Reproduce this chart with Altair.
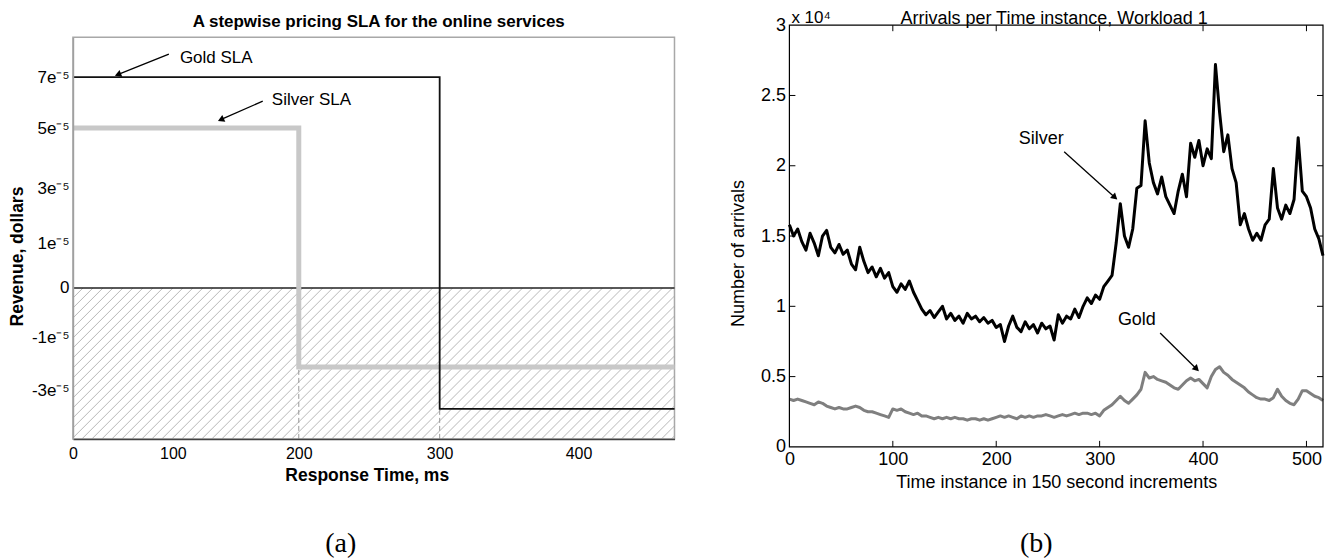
import math
import numpy as np
import pandas as pd
import altair as alt

# ---------------- Panel (a): stepwise pricing SLA ----------------
sla_x_ticks = [0, 100, 200, 300, 400]
sla_y_ticks = [7e-5, 5e-5, 3e-5, 1e-5, 0.0, -1e-5, -3e-5]
sla_y_tick_text = ["7e\u207b\u2075", "5e\u207b\u2075", "3e\u207b\u2075", "1e\u207b\u2075", "0",
                   "-1e\u207b\u2075", "-3e\u207b\u2075"]
gold_sla_ms = [0, 300, 470]
gold_sla_rev = [7e-5, -3.75e-5, -3.75e-5]
silver_sla_ms = [0, 200, 470]
silver_sla_rev = [5e-5, -2.1e-5, -2.1e-5]
threshold_ms = [200, 300]
threshold_low = [-2.1e-5, -3.75e-5]

# ---------------- Panel (b): arrivals per time instance (x 10^4) ----------------
arr_ticks_x = [0, 100, 200, 300, 400, 500]
arr_ticks_y = [0, 0.5, 1, 1.5, 2, 2.5, 3]
time_step = list(range(0, 517, 4))
silver_arrivals = [
    1.58, 1.50, 1.55, 1.46, 1.40, 1.52, 1.45, 1.36, 1.50, 1.54, 1.42, 1.38, 1.44, 1.37, 1.40, 1.30,
    1.26, 1.42, 1.32, 1.24, 1.28, 1.21, 1.27, 1.20, 1.24, 1.14, 1.10, 1.16, 1.12, 1.18, 1.10, 1.04,
    0.98, 0.94, 0.97, 0.92, 0.96, 1.00, 0.91, 0.95, 0.90, 0.93, 0.88, 0.95, 0.91, 0.93, 0.89, 0.92,
    0.88, 0.90, 0.85, 0.87, 0.75, 0.86, 0.93, 0.85, 0.82, 0.89, 0.84, 0.87, 0.81, 0.88, 0.84, 0.86,
    0.76, 0.94, 0.88, 0.93, 0.91, 0.98, 0.92, 1.00, 1.06, 1.02, 1.08, 1.05, 1.14, 1.18, 1.22, 1.45,
    1.73, 1.50, 1.42, 1.55, 1.84, 1.86, 2.32, 2.02, 1.88, 1.80, 1.92, 1.78, 1.72, 1.66, 1.82, 1.94,
    1.78, 2.16, 2.06, 2.18, 2.00, 2.12, 2.05, 2.72, 2.38, 2.10, 2.22, 1.98, 1.88, 1.58, 1.66, 1.55,
    1.47, 1.52, 1.47, 1.58, 1.62, 1.98, 1.70, 1.62, 1.72, 1.66, 1.76, 2.20, 1.82, 1.78, 1.70, 1.55,
    1.48, 1.36]
gold_arrivals = [
    0.34, 0.33, 0.34, 0.33, 0.32, 0.31, 0.30, 0.32, 0.31, 0.29, 0.28, 0.27, 0.28, 0.27, 0.27, 0.28,
    0.29, 0.28, 0.26, 0.25, 0.25, 0.24, 0.23, 0.22, 0.21, 0.27, 0.26, 0.27, 0.25, 0.24, 0.23, 0.24,
    0.22, 0.22, 0.21, 0.20, 0.21, 0.20, 0.21, 0.20, 0.21, 0.20, 0.20, 0.19, 0.20, 0.20, 0.19, 0.20,
    0.19, 0.20, 0.21, 0.22, 0.21, 0.22, 0.21, 0.20, 0.22, 0.21, 0.22, 0.21, 0.22, 0.22, 0.23, 0.22,
    0.21, 0.22, 0.23, 0.22, 0.23, 0.24, 0.23, 0.24, 0.24, 0.23, 0.24, 0.22, 0.26, 0.28, 0.30, 0.33,
    0.36, 0.33, 0.31, 0.34, 0.37, 0.41, 0.53, 0.49, 0.50, 0.48, 0.47, 0.46, 0.44, 0.42, 0.41, 0.44,
    0.47, 0.49, 0.47, 0.48, 0.45, 0.42, 0.50, 0.55, 0.57, 0.53, 0.51, 0.48, 0.46, 0.44, 0.42, 0.39,
    0.37, 0.35, 0.34, 0.34, 0.33, 0.35, 0.41, 0.36, 0.33, 0.31, 0.30, 0.34, 0.40, 0.40, 0.38, 0.36,
    0.35, 0.33]

# ---------------- layout (pixels inside each panel's group) ----------------
A_W, A_H = 602, 414          # panel (a) view; its frame starts 12 px below the view top
B_W, B_H = 534, 422
SLA_X_BREAKS = [0, 100, 200, 300, 400, 470]
SLA_X_PIX = [0, 100, 226, 367, 506, 602]
SLA_Y_BREAKS = [-5e-5, -3e-5, -1e-5, 0.0, 1e-5, 3e-5, 5e-5, 7e-5, 9e-5]
SLA_Y_PIX = [414, 366, 313, 263, 218, 163, 103, 52, 12]
ARR_X_DOM, ARR_X_PIX = [0, 516], [0, B_W]
ARR_Y_DOM, ARR_Y_PIX = [0, 3], [B_H, 0]

SANS = "Liberation Sans, Arial, Helvetica, sans-serif"
SERIF = "Liberation Serif, Times New Roman, serif"

sx = alt.Scale(domain=SLA_X_BREAKS, range=SLA_X_PIX, zero=False, nice=False)
sy = alt.Scale(domain=SLA_Y_BREAKS, range=SLA_Y_PIX, zero=False, nice=False)
ax = alt.Scale(domain=ARR_X_DOM, zero=False, nice=False)
ay = alt.Scale(domain=ARR_Y_DOM, zero=False, nice=False)


def sla_px(x, y):
    return float(np.interp(x, SLA_X_BREAKS, SLA_X_PIX)), float(np.interp(y, SLA_Y_BREAKS, SLA_Y_PIX))


def sla_inv(px, py):
    return (float(np.interp(px, SLA_X_PIX, SLA_X_BREAKS)),
            float(np.interp(py, SLA_Y_PIX[::-1], SLA_Y_BREAKS[::-1])))


def arr_px(x, y):
    return float(np.interp(x, ARR_X_DOM, ARR_X_PIX)), float(np.interp(y, ARR_Y_DOM, ARR_Y_PIX))


def head_angle(p0, p1):
    dx, dy = p1[0] - p0[0], p1[1] - p0[1]
    return (math.degrees(math.atan2(dx, -dy)) + 360) % 360


# ---------------- axes (same object on every layer so they merge) ----------------
label_expr = " : ".join(
    f"abs(datum.value - ({v})) < 1e-9 ? '{t}'" for v, t in zip(sla_y_ticks, sla_y_tick_text)
) + " : ''"

axis_a_x = alt.Axis(
    values=sla_x_ticks, format="d", grid=False, ticks=False, tickSize=0,
    labelFlush=False, labelPadding=7, labelFontSize=16, labelFont=SANS, labelColor="black",
    domainColor="#444", domainWidth=1.5, zindex=1,
    title="Response Time, ms", titleFont=SANS, titleFontSize=17.5, titleFontWeight="bold",
    titleColor="black", titleX=294, titleY=37, titleBaseline="middle", titleAlign="center")
axis_a_y = alt.Axis(
    values=sla_y_ticks, labelExpr=label_expr, grid=False, ticks=False, tickSize=0,
    labelPadding=4, labelFontSize=17, labelFont=SANS, labelColor="black",
    domainColor="#a0a0a0", domainWidth=1.5, zindex=1,
    title="Revenue, dollars", titleFont=SANS, titleFontSize=17.5, titleFontWeight="bold",
    titleColor="black", titleX=-55, titleY=231, titleAngle=270, titleBaseline="middle",
    titleAlign="center")
axis_b_x = alt.Axis(
    values=arr_ticks_x, format="d", grid=False, ticks=False, tickSize=0, domain=False,
    labelFlush=False, labelPadding=4, labelFontSize=18, labelFont=SANS, labelColor="black",
    title="Time instance in 150 second increments", titleFont=SANS, titleFontSize=18,
    titleFontWeight="normal", titleColor="black", titleX=267, titleY=36,
    titleBaseline="middle", titleAlign="center")
axis_b_y = alt.Axis(
    values=arr_ticks_y, format="~g", grid=False, ticks=False, tickSize=0, domain=False,
    labelPadding=4, labelFontSize=18, labelFont=SANS, labelColor="black",
    title="Number of arrivals", titleFont=SANS, titleFontSize=18, titleFontWeight="normal",
    titleColor="black", titleX=-51, titleY=228, titleAngle=270, titleBaseline="middle",
    titleAlign="center")


def AX(field):
    return alt.X(field, type="quantitative", scale=sx, axis=axis_a_x)


def AY(field):
    return alt.Y(field, type="quantitative", scale=sy, axis=axis_a_y)


def BX(field):
    return alt.X(field, type="quantitative", scale=ax, axis=axis_b_x)


def BY(field):
    return alt.Y(field, type="quantitative", scale=ay, axis=axis_b_y)


# ---------------- hatch texture below zero (45 degree lines, 10 px apart) ----------------
zero_px, bot_px = float(np.interp(0.0, SLA_Y_BREAKS, SLA_Y_PIX)), SLA_Y_PIX[0]
hh = bot_px - zero_px
rows = []
for k in np.arange(-hh, A_W, 10.0):
    xs, xe = max(k, 0.0), min(k + hh, A_W)
    if xe <= xs:
        continue
    x0, y0 = sla_inv(xs, bot_px - (xs - k))
    x1, y1 = sla_inv(xe, bot_px - (xe - k))
    rows.append({"x0": x0, "y0": y0, "x1": x1, "y1": y1})
hatch = alt.Chart(pd.DataFrame(rows)).mark_rule(color="#b8b8b8", strokeWidth=1).encode(
    x=AX("x0"), y=AY("y0"), x2="x1:Q", y2="y1:Q")

# ---------------- panel (a) layers ----------------
frame_a = alt.Chart(pd.DataFrame({"x0": [0], "x1": [470], "y0": [-5e-5], "y1": [9e-5]})).mark_rect(
    fillOpacity=0, stroke="#a8a8a8", strokeWidth=1.5
).encode(x=AX("x0"), x2="x1:Q", y=AY("y0"), y2="y1:Q")

zero_line = alt.Chart(pd.DataFrame({"x0": [0], "x1": [470], "y": [0.0]})).mark_rule(
    color="#222", strokeWidth=1.3
).encode(x=AX("x0"), x2="x1:Q", y=AY("y"))

dashed = alt.Chart(pd.DataFrame({"x": threshold_ms, "lo": threshold_low, "bot": [-5e-5, -5e-5]})).mark_rule(
    color="#999", strokeWidth=1, strokeDash=[5, 3]
).encode(x=AX("x"), y=AY("bot"), y2="lo:Q")

silver_step = alt.Chart(pd.DataFrame({"ms": silver_sla_ms, "rev": silver_sla_rev})).mark_line(
    interpolate="step-after", color="#c8c8c8", strokeWidth=5
).encode(x=AX("ms"), y=AY("rev"))

gold_step = alt.Chart(pd.DataFrame({"ms": gold_sla_ms, "rev": gold_sla_rev})).mark_line(
    interpolate="step-after", color="#111", strokeWidth=1.8
).encode(x=AX("ms"), y=AY("rev"))

a_arrows = pd.DataFrame({
    "x0": [96, 171.4], "y0": [8.15e-5, 6.06e-5],
    "x1": [46, 138.9], "y1": [7.15e-5, 5.35e-5],
})
a_arrows["ang"] = [head_angle(sla_px(r.x0, r.y0), sla_px(r.x1, r.y1)) for r in a_arrows.itertuples()]
a_lines = alt.Chart(a_arrows).mark_rule(color="black", strokeWidth=1.3).encode(
    x=AX("x0"), y=AY("y0"), x2="x1:Q", y2="y1:Q")
a_heads = alt.Chart(a_arrows).mark_point(shape="triangle", filled=True, size=55, color="black", opacity=1).encode(
    x=AX("x1"), y=AY("y1"), angle=alt.Angle("ang:Q", scale=None))
a_text = alt.Chart(pd.DataFrame({"x": [105.6, 178.6], "y": [7.95e-5, 6.1e-5], "t": ["Gold SLA", "Silver SLA"]})).mark_text(
    align="left", baseline="middle", font=SANS, fontSize=17, color="black"
).encode(x=AX("x"), y=AY("y"), text="t:N")

one = alt.InlineData(values=[{"k": 1}])


def label(text, x, y, size, font=SANS, weight="normal", align="center", baseline="middle"):
    return alt.Chart(one).mark_text(text=text, font=font, fontSize=size, fontWeight=weight,
                                    align=align, baseline=baseline, color="black").encode(
        x=alt.value(x), y=alt.value(y))


def anchor(x, y):
    return alt.Chart(one).mark_rule(strokeOpacity=0, strokeWidth=0.5).encode(
        x=alt.value(x), x2=alt.value(x), y=alt.value(y), y2=alt.value(y + 1))


panel_a = alt.layer(
    hatch, frame_a, zero_line, dashed, silver_step, gold_step, a_lines, a_heads, a_text,
    label("A stepwise pricing SLA for the online services", 306, -3, 17, weight="bold"),
    label("(a)", 268, 519, 28, font=SERIF),
    anchor(-63, 0),
).properties(width=A_W, height=A_H)

# ---------------- panel (b) layers ----------------
arr = pd.DataFrame({"t": time_step[:len(silver_arrivals)], "silver": silver_arrivals,
                    "gold": gold_arrivals[:len(silver_arrivals)]})

silver_line = alt.Chart(arr).mark_line(color="black", strokeWidth=3, strokeJoin="round").encode(
    x=BX("t"), y=BY("silver"))
gold_line = alt.Chart(arr).mark_line(color="#7f7f7f", strokeWidth=3, strokeJoin="round").encode(
    x=BX("t"), y=BY("gold"))

frame_b = alt.Chart(pd.DataFrame({"x0": [0], "x1": [516], "y0": [0], "y1": [3]})).mark_rect(
    fillOpacity=0, stroke="black", strokeWidth=1.2
).encode(x=BX("x0"), x2="x1:Q", y=BY("y0"), y2="y1:Q")

TICK_PX = 6
ty = TICK_PX * (ARR_Y_DOM[1] - ARR_Y_DOM[0]) / B_H
tx = TICK_PX * (ARR_X_DOM[1] - ARR_X_DOM[0]) / B_W
xt = [v for v in arr_ticks_x if v > 0]
yt = [v for v in arr_ticks_y if 0 < v < 3]
vt = pd.DataFrame({"x": xt * 2, "a": [0] * len(xt) + [3] * len(xt), "b": [ty] * len(xt) + [3 - ty] * len(xt)})
ht = pd.DataFrame({"y": yt * 2, "a": [0] * len(yt) + [516] * len(yt), "b": [tx] * len(yt) + [516 - tx] * len(yt)})
vticks = alt.Chart(vt).mark_rule(color="black", strokeWidth=1).encode(x=BX("x"), y=BY("a"), y2="b:Q")
hticks = alt.Chart(ht).mark_rule(color="black", strokeWidth=1).encode(x=BX("a"), x2="b:Q", y=BY("y"))

b_arrows = pd.DataFrame({
    "x0": [265.7, 358.5], "y0": [2.10, 0.81],
    "x1": [314.0, 393.0], "y1": [1.78, 0.56],
})
b_arrows["ang"] = [head_angle(arr_px(r.x0, r.y0), arr_px(r.x1, r.y1)) for r in b_arrows.itertuples()]
b_lines = alt.Chart(b_arrows).mark_rule(color="black", strokeWidth=1.3).encode(
    x=BX("x0"), y=BY("y0"), x2="x1:Q", y2="y1:Q")
b_heads = alt.Chart(b_arrows).mark_point(shape="triangle", filled=True, size=55, color="black", opacity=1).encode(
    x=BX("x1"), y=BY("y1"), angle=alt.Angle("ang:Q", scale=None))
b_text = alt.Chart(pd.DataFrame({"x": [243.5, 336.0], "y": [2.19, 0.90], "t": ["Silver", "Gold"]})).mark_text(
    align="center", baseline="middle", font=SANS, fontSize=18, color="black"
).encode(x=BX("x"), y=BY("y"), text="t:N")

panel_b = alt.layer(
    silver_line, gold_line, frame_b, vticks, hticks, b_lines, b_heads, b_text,
    label("Arrivals per Time instance, Workload 1", 265, -6, 18),
    label("x 10\u2074", 2, -7, 17, align="left"),
    label("(b)", 247, 519, 28, font=SERIF),
    anchor(0, -16),
).properties(width=B_W, height=B_H)

chart = alt.hconcat(panel_a, panel_b, spacing=115, bounds="flush").properties(
    padding=0
).configure_view(stroke="transparent").configure_axis(grid=False)

chart.save("out.html", embed_options={"renderer": "svg", "actions": False})
